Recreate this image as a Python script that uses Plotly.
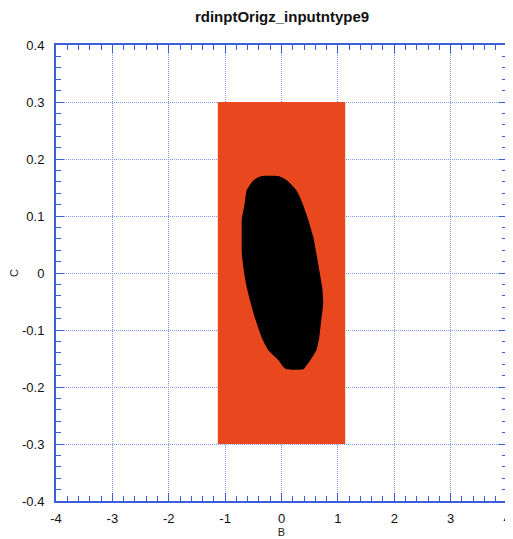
import plotly.graph_objects as go

# Data
rect_x = [-1.13, 1.13, 1.13, -1.13, -1.13]
rect_y = [-0.30, -0.30, 0.30, 0.30, -0.30]

blob_x = [-0.352, -0.053, 0.088, 0.264, 0.370, 0.476, 0.564, 0.617, 0.670, 0.722,
          0.740, 0.705, 0.670, 0.617, 0.511, 0.423, 0.388, 0.088, 0.035, -0.053,
          -0.229, -0.352, -0.458, -0.546, -0.617, -0.670, -0.705, -0.705, -0.705,
          -0.652, -0.617, -0.493, -0.352]
blob_y = [0.170, 0.170, 0.163, 0.145, 0.123, 0.093, 0.063, 0.035, 0.005, -0.025,
          -0.053, -0.083, -0.113, -0.136, -0.153, -0.165, -0.169, -0.169, -0.165, -0.153,
          -0.136, -0.113, -0.083, -0.053, -0.025, 0.005, 0.035, 0.063, 0.093,
          0.123, 0.145, 0.163, 0.170]

x_ticks = [-4, -3, -2, -1, 0, 1, 2, 3, 4]
x_labels = ["-4", "-3", "-2", "-1", "0", "1", "2", "3", "4"]
y_ticks = [-0.4, -0.3, -0.2, -0.1, 0, 0.1, 0.2, 0.3, 0.4]
y_labels = ["-0.4", "-0.3", "-0.2", "-0.1", "0", "0.1", "0.2", "0.3", "0.4"]

axis_col = "#3a5fd9"
grid_col = "#7f98e8"

fig = go.Figure()
fig.add_trace(go.Scatter(x=rect_x, y=rect_y, mode="lines", fill="toself",
                         fillcolor="#e9471d", line=dict(width=0), hoverinfo="skip",
                         showlegend=False))
fig.add_trace(go.Scatter(x=blob_x, y=blob_y, mode="lines", fill="toself",
                         fillcolor="#000000", line=dict(width=0, shape="spline", smoothing=0.5),
                         hoverinfo="skip", showlegend=False))

font = "Liberation Sans, Arial, Helvetica, sans-serif"
common = dict(showline=True, linecolor=axis_col, linewidth=2, mirror="ticks",
              ticks="inside", tickcolor=axis_col, ticklen=8, tickwidth=1,
              showgrid=True, gridcolor=grid_col, griddash="1px,1px", gridwidth=1,
              zeroline=False, automargin=False,
              tickfont=dict(family=font, size=13, color="#111"))

fig.update_xaxes(range=[-4, 4], tickvals=x_ticks, ticktext=x_labels,
                 minor=dict(ticks="inside", dtick=0.2, ticklen=5, tickcolor=axis_col,
                            tickwidth=1, showgrid=False),
                 ticklabelstandoff=4,
                 title=dict(text="B", font=dict(family=font, size=11, color="#222"),
                            standoff=2),
                 **common)
fig.update_yaxes(range=[-0.4, 0.4], tickvals=y_ticks, ticktext=y_labels,
                 minor=dict(ticks="inside", dtick=0.02, ticklen=5, tickcolor=axis_col,
                            tickwidth=1, showgrid=False),
                 ticklabelstandoff=7,
                 title=dict(text="C", font=dict(family=font, size=11, color="#222"),
                            standoff=6),
                 **common)

# page has an 8px body margin, so the figure is sized/offset to compensate
fig.update_layout(
    width=505, height=531,
    margin=dict(l=48, r=6, t=37, b=38),
    plot_bgcolor="white", paper_bgcolor="white",
    title=dict(text="<b>rdinptOrigz_inputntype9</b>", x=0.5426, xanchor="center",
               y=1 - 9 / 531, yanchor="middle",
               font=dict(family=font, size=15, color="#111")),
)

fig.write_html("out.html")
